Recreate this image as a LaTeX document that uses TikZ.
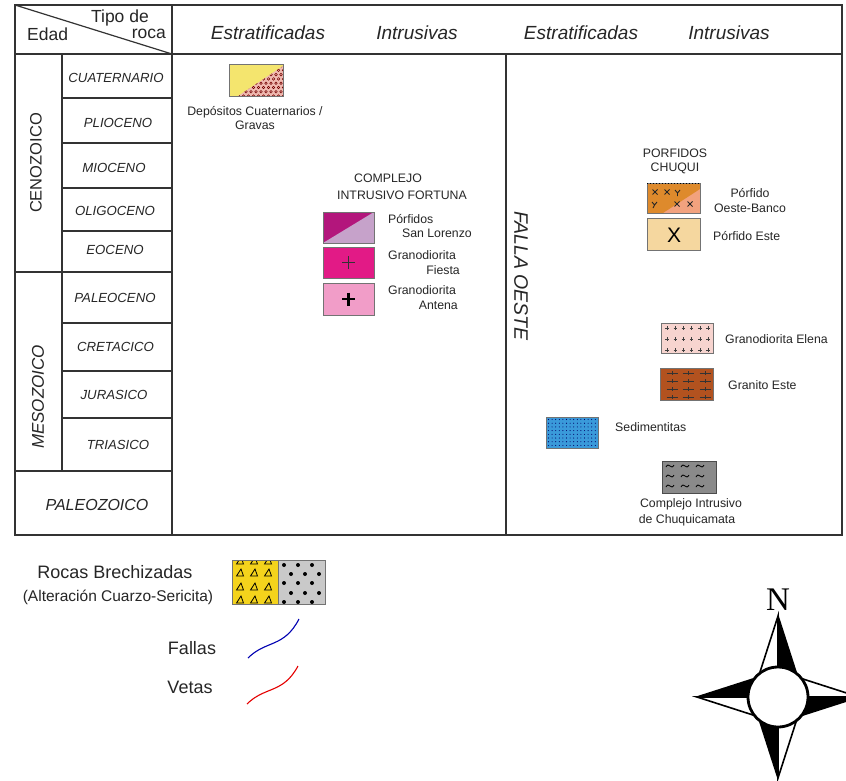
\documentclass[tikz,border=0pt]{standalone}
\usepackage{fontspec}
\setmainfont{Liberation Sans}
\newfontfamily\serifN{Liberation Serif}
\definecolor{txt}{HTML}{262626}
\definecolor{depY}{HTML}{F4E56E}
\definecolor{depP}{HTML}{EFB9B0}
\definecolor{slM}{HTML}{B3167C}
\definecolor{slL}{HTML}{C6A2CA}
\definecolor{fiesta}{HTML}{E21A86}
\definecolor{antena}{HTML}{F19DC8}
\definecolor{obO}{HTML}{DE8A2C}
\definecolor{obS}{HTML}{F2A27E}
\definecolor{este}{HTML}{F5D79F}
\definecolor{elena}{HTML}{F7D4CF}
\definecolor{granito}{HTML}{B2521F}
\definecolor{sedim}{HTML}{3A9ADA}
\definecolor{chuq}{HTML}{8A8A8A}
\definecolor{brY}{HTML}{F4D31C}
\definecolor{brG}{HTML}{C9C9C9}
\tikzset{
  tline/.style={line width=1.2pt, draw=black!80},
  hdr/.style={font=\fontsize{19}{21}\selectfont\itshape, text=txt, inner sep=0},
  corner/.style={font=\fontsize{17.5}{19}\selectfont, text=txt, inner sep=0, text height=12.5pt, text depth=3.5pt},
  per/.style={font=\fontsize{13.2}{15}\selectfont\itshape, text=txt, inner sep=0},
  era/.style={font=\fontsize{16.5}{18}\selectfont, text=txt, inner sep=0},
  lbl/.style={font=\fontsize{12.3}{14}\selectfont, text=txt, inner sep=0},
  leg/.style={font=\fontsize{18}{20}\selectfont, text=txt, inner sep=0},
  swatch/.style={draw=black!55, line width=0.7pt},
}
\begin{document}
\begin{tikzpicture}[x=1pt,y=-1pt]
\useasboundingbox (0,0) rectangle (846,780);
\fill[white] (0,0) rectangle (846,780);

% ---------- table ----------
\draw[tline] (15,5) rectangle (842,535);
\draw[tline] (15,54) -- (842,54);
\draw[tline] (172,5) -- (172,535);
\draw[tline] (506,54) -- (506,535);
\draw[tline] (15,5) -- (172,54);
\draw[tline] (62,54) -- (62,471);
\draw[tline] (62,98) -- (172,98);
\draw[tline, line width=1.7pt] (62,143) -- (172,143);
\draw[tline, line width=1.7pt] (62,188) -- (172,188);
\draw[tline] (62,231) -- (172,231);
\draw[tline] (15,272) -- (172,272);
\draw[tline] (62,323) -- (172,323);
\draw[tline] (62,371) -- (172,371);
\draw[tline, line width=1.5pt] (62,418) -- (172,418);
\draw[tline] (15,471) -- (172,471);

% header
\node[corner, anchor=base west] (edad) at (27,40) {Edad};
\node[corner, anchor=base east] (tipo) at (149,22.5) {Tipo de};
\node[corner, anchor=base east] (roca) at (166,38.5) {roca};
\node[hdr] (h1) at (268,33) {Estratificadas};
\node[hdr] (h2) at (417,33) {Intrusivas};
\node[hdr] (h3) at (581,33) {Estratificadas};
\node[hdr] (h4) at (729,33) {Intrusivas};

% eras and periods
\node[era, rotate=90] (ceno) at (36,163) {CENOZOICO};
\node[era, rotate=90, font=\fontsize{17}{18}\selectfont\itshape] (meso) at (38,397) {MESOZOICO};
\node[era, font=\fontsize{16}{18}\selectfont\itshape] (paleo) at (97,505) {PALEOZOICO};
\node[per] (p1) at (116,78) {CUATERNARIO};
\node[per] (p2) at (118,123) {PLIOCENO};
\node[per] (p3) at (114,168) {MIOCENO};
\node[per] (p4) at (115,211) {OLIGOCENO};
\node[per] (p5) at (115,250) {EOCENO};
\node[per] (p6) at (115,298) {PALEOCENO};
\node[per] (p7) at (115.5,347) {CRETACICO};
\node[per] (p8) at (114,395) {JURASICO};
\node[per] (p9) at (118,445) {TRIASICO};

% ---------- Depositos Cuaternarios ----------
\fill[depY] (229,64) rectangle (283,96);
\fill[depP] (238,96) -- (283,66) -- (283,96) -- cycle;
\begin{scope}
  \clip (238,96) -- (283,66) -- (283,96) -- cycle;
  \foreach \i in {0,...,10} \foreach \j/\off in {0/0,1/2.5,2/0,3/2.5,4/0,5/2.5,6/0,7/2.5}
    \draw[draw=red!45!black, line width=0.5pt] (236+\i*5+\off, 66+\j*4.3) circle (1.3pt);
\end{scope}
\draw[swatch] (229,64) rectangle (283,96);
\node[lbl] (dep1) at (255,112) {Depósitos Cuaternarios /};
\node[lbl] (dep2) at (255,125) {Gravas};

% ---------- Complejo Intrusivo Fortuna ----------
\node[lbl] (cif1) at (388,178) {COMPLEJO};
\node[lbl] (cif2) at (402,195) {INTRUSIVO FORTUNA};
\fill[slM] (323,212) rectangle (374,243);
\fill[slL] (323,243) -- (374,212) -- (374,243) -- cycle;
\draw[swatch] (323,212) rectangle (374,243);
\node[lbl, anchor=west] (sl1) at (388,219) {Pórfidos};
\node[lbl, anchor=east] (sl2) at (472,233) {San Lorenzo};

\fill[fiesta] (323,247) rectangle (374,278);
\draw[swatch] (323,247) rectangle (374,278);
\draw[black!80, line width=0.8pt] (342,262.5) -- (355,262.5) (348.5,256) -- (348.5,269);
\node[lbl, anchor=west] (fi1) at (388,255) {Granodiorita};
\node[lbl, anchor=east] (fi2) at (460,270) {Fiesta};

\fill[antena] (323,283) rectangle (374,315);
\draw[swatch] (323,283) rectangle (374,315);
\draw[black, line width=2.3pt] (342,299) -- (355,299) (348.5,292.5) -- (348.5,305.5);
\node[lbl, anchor=west] (an1) at (388,290) {Granodiorita};
\node[lbl, anchor=east] (an2) at (458,305) {Antena};

% ---------- Falla Oeste ----------
\node[font=\fontsize{19.5}{21}\selectfont\itshape, text=txt, inner sep=0, rotate=-90] (falla) at (521,276) {FALLA OESTE};

% ---------- Porfidos Chuqui ----------
\node[lbl] (pc1) at (675,153) {PORFIDOS};
\node[lbl] (pc2) at (675,168) {CHUQUI};
\fill[obS] (647,183) rectangle (700,213);
\fill[obO] (647,183) -- (700,183) -- (700,189) -- (663,213) -- (647,213) -- cycle;
\draw[swatch] (647,183) rectangle (700,213);
\draw[black, dotted, line width=1pt] (647,183.5) -- (700,183.5);
\foreach \x/\y in {655/192, 667/192, 677/204, 690/204}
  \draw[black!85, line width=0.9pt] (\x-2.5,\y-2.5) -- (\x+2.5,\y+2.5) (\x-2.5,\y+2.5) -- (\x+2.5,\y-2.5);
\draw[black!85, line width=0.9pt] (675,190) -- (677.5,193) -- (680,190) (677.5,193) -- (677.5,196);
\draw[black!85, line width=0.9pt] (652,202) -- (654.5,205) -- (657,202) (654.5,205) -- (653,208);
\node[lbl, anchor=center] (ob1) at (750,193) {Pórfido};
\node[lbl, anchor=center] (ob2) at (750,208) {Oeste-Banco};

\fill[este] (647,218) rectangle (700,250);
\draw[swatch] (647,218) rectangle (700,250);
\node[font=\fontsize{21}{22}\selectfont, text=black, inner sep=0] (xmark) at (674,235) {X};
\node[lbl, anchor=west] (pe) at (713,236) {Pórfido Este};

% ---------- Granodiorita Elena ----------
\fill[elena] (661,323) rectangle (713,353);
\draw[swatch] (661,323) rectangle (713,353);
\foreach \i in {0,...,5} \foreach \y in {328,339,350}
  \draw[black!75, line width=0.6pt] (667+\i*8.2-1.7,\y) -- (667+\i*8.2+1.7,\y) (667+\i*8.2,\y-1.7) -- (667+\i*8.2,\y+1.7);
\node[lbl, anchor=west] (el) at (725,339) {Granodiorita Elena};

% ---------- Granito Este ----------
\fill[granito] (660,368) rectangle (713,400);
\draw[swatch] (660,368) rectangle (713,400);
\foreach \x in {672,688,705} \foreach \y in {373,381,389,397}
  \draw[black!80, line width=0.6pt] (\x-5.5,\y) -- (\x+5.5,\y) (\x,\y-2) -- (\x,\y+2);
\node[lbl, anchor=west] (ge) at (728,385) {Granito Este};

% ---------- Sedimentitas ----------
\fill[sedim] (546,417) rectangle (598,448);
\foreach \i in {0,...,13} \foreach \j in {0,...,7}
  \fill[blue!40!black] (548.5+\i*3.6, 419.5+\j*3.7) circle (0.55pt);
\draw[swatch] (546,417) rectangle (598,448);
\node[lbl, anchor=west] (sed) at (615,427) {Sedimentitas};

% ---------- Complejo Intrusivo de Chuquicamata ----------
\fill[chuq] (662,461) rectangle (716,493);
\draw[swatch, draw=black!70] (662,461) rectangle (716,493);
\foreach \x in {670,685,700} \foreach \y in {466,476,486}
  \draw[black, line width=0.8pt] (\x-4,\y+1) sin (\x-2,\y-1) cos (\x,\y) sin (\x+2,\y+1) cos (\x+4,\y-1);
\node[lbl] (ch1) at (691,504) {Complejo Intrusivo};
\node[lbl] (ch2) at (687,520) {de Chuquicamata};

% ---------- legend ----------
\node[leg] (rb) at (115,572) {Rocas Brechizadas};
\node[font=\fontsize{15.5}{17}\selectfont, text=txt, inner sep=0] (alt) at (118,597) {(Alteración Cuarzo-Sericita)};
\fill[brY] (232,560) rectangle (278,604);
\fill[brG] (278,560) rectangle (325,604);
\begin{scope}
  \clip (232,560) rectangle (278,604);
  \foreach \x in {240,254,268} \foreach \y in {561,573,587,600}
    \draw[black, line width=0.8pt] (\x-3.5,\y+3) -- (\x+3.5,\y+3) -- (\x+1,\y-4) -- cycle;
\end{scope}
\foreach \x/\y in {284/565,298/565,312/565, 291/574,305/574,319/574, 284/583,298/583,312/583, 291/593,305/593,319/593, 284/602,298/602,312/602}
  \fill[black] (\x,\y) circle (2pt);
\draw[swatch] (232,560) rectangle (325,604);
\draw[swatch] (278,560) -- (278,604);

\node[leg] (fallas) at (192,648) {Fallas};
\draw[blue!70!black, line width=1.1pt] (248,658) .. controls (266,640) and (284,648) .. (299,619);
\node[leg] (vetas) at (190,687) {Vetas};
\draw[red!90!black, line width=1.1pt] (247,704) .. controls (265,686) and (283,694) .. (298,666);

% ---------- compass ----------
\node[font=\serifN\fontsize{33}{34}\selectfont, inner sep=0] (north) at (778,600) {N};
\begin{scope}[shift={(778,697)}]
  \foreach \a in {0,90,180,270} {
    \begin{scope}[rotate=\a]
      \fill[black] (0,-81) -- (18,-25) -- (0,0) -- cycle;
      \draw[black, line width=1.6pt, fill=white, line join=miter] (0,-81) -- (-18,-25) -- (0,0) -- cycle;
      \draw[black, line width=1.6pt] (0,-81) -- (18,-25);
    \end{scope}
  }
  \draw[black, line width=2.8pt, fill=white] (0,0) circle (30pt);
\end{scope}
\end{tikzpicture}
\end{document}
